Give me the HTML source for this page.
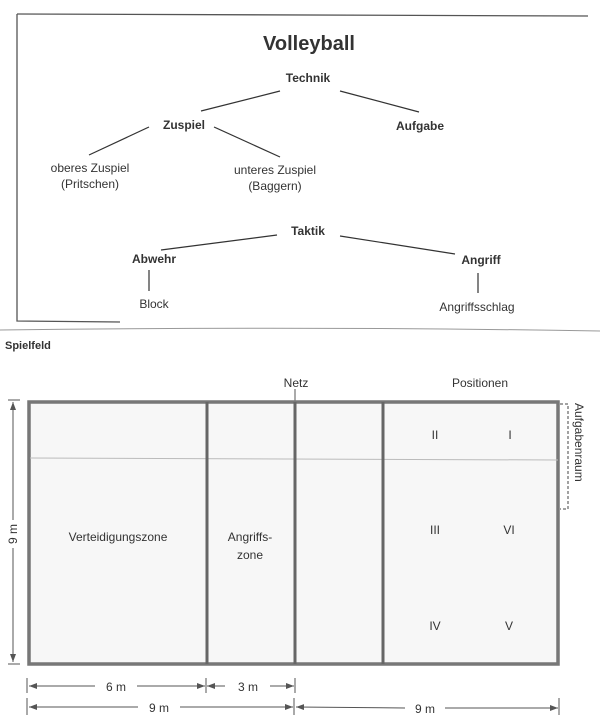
<!DOCTYPE html>
<html><head><meta charset="utf-8"><style>
html,body{margin:0;padding:0;background:#fff;}
svg{display:block;}
text{font-family:"Liberation Sans",sans-serif;fill:#333;}
.b{font-weight:bold;}
</style></head><body>
<svg width="601" height="723" viewBox="0 0 601 723" xmlns="http://www.w3.org/2000/svg">
<defs>
<marker id="ar" markerWidth="8" markerHeight="6" refX="8" refY="3" orient="auto-start-reverse"><path d="M0,0 L8,3 L0,6 z" fill="#555"/></marker>
</defs>
<g stroke="#555" stroke-width="1.3" fill="none">
<path d="M17,14 L588,16"/>
<path d="M17,14 L17,321 L120,322"/>
</g>
<path d="M0,330 Q300,326 600,331" stroke="#999" stroke-width="1" fill="none"/>
<text x="309" y="50" font-size="20" class="b" text-anchor="middle" fill="#444">Volleyball</text>
<text x="308" y="82" font-size="12" class="b" text-anchor="middle">Technik</text>
<text x="184" y="129" font-size="12" class="b" text-anchor="middle">Zuspiel</text>
<text x="420" y="130" font-size="12" class="b" text-anchor="middle">Aufgabe</text>
<text x="90" y="172" font-size="12" text-anchor="middle">oberes Zuspiel</text>
<text x="90" y="188" font-size="12" text-anchor="middle">(Pritschen)</text>
<text x="275" y="174" font-size="12" text-anchor="middle">unteres Zuspiel</text>
<text x="275" y="190" font-size="12" text-anchor="middle">(Baggern)</text>
<text x="308" y="235" font-size="12" class="b" text-anchor="middle">Taktik</text>
<text x="154" y="263" font-size="12" class="b" text-anchor="middle">Abwehr</text>
<text x="481" y="264" font-size="12" class="b" text-anchor="middle">Angriff</text>
<text x="154" y="308" font-size="12" text-anchor="middle">Block</text>
<text x="477" y="311" font-size="12" text-anchor="middle">Angriffsschlag</text>
<g stroke="#333" stroke-width="1.2">
<line x1="280" y1="91" x2="201" y2="111"/>
<line x1="340" y1="91" x2="419" y2="112"/>
<line x1="149" y1="127" x2="89" y2="155"/>
<line x1="214" y1="127" x2="280" y2="157"/>
<line x1="277" y1="235" x2="161" y2="250"/>
<line x1="340" y1="236" x2="455" y2="254"/>
<line x1="149" y1="270" x2="149" y2="291"/>
<line x1="478" y1="273" x2="478" y2="293"/>
</g>
<text x="5" y="349" font-size="11" class="b">Spielfeld</text>
<text x="296" y="387" font-size="12" text-anchor="middle">Netz</text>
<text x="480" y="387" font-size="12" text-anchor="middle">Positionen</text>
<line x1="295" y1="389" x2="295" y2="402" stroke="#555" stroke-width="1"/>
<rect x="29" y="402" width="529" height="262" fill="#f7f7f7" stroke="#777" stroke-width="3.5"/>
<line x1="30" y1="458" x2="558" y2="460" stroke="#bbb" stroke-width="1"/>
<g stroke="#666" stroke-width="3">
<line x1="207" y1="402" x2="207" y2="664"/>
<line x1="295" y1="402" x2="295" y2="664"/>
<line x1="383" y1="402" x2="383" y2="664"/>
</g>
<path d="M560,404 L568,404 L568,509 L560,509" stroke="#444" stroke-dasharray="3,2" fill="none" stroke-width="1"/>
<text transform="translate(575,403) rotate(90)" font-size="12">Aufgabenraum</text>
<text x="118" y="541" font-size="12" text-anchor="middle">Verteidigungszone</text>
<text x="250" y="541" font-size="12" text-anchor="middle">Angriffs-</text>
<text x="250" y="559" font-size="12" text-anchor="middle">zone</text>
<g font-size="12" text-anchor="middle">
<text x="435" y="439">II</text><text x="510" y="439">I</text>
<text x="435" y="534">III</text><text x="509" y="534">VI</text>
<text x="435" y="630">IV</text><text x="509" y="630">V</text>
</g>
<g stroke="#555" stroke-width="1" fill="none">
<line x1="8" y1="400" x2="20" y2="400"/><line x1="8" y1="664" x2="20" y2="664"/>
<line x1="13" y1="402" x2="13" y2="520" marker-start="url(#ar)"/>
<line x1="13" y1="548" x2="13" y2="662" marker-end="url(#ar)"/>
<line x1="27" y1="678" x2="27" y2="693"/><line x1="27" y1="698" x2="27" y2="715"/>
<line x1="206" y1="678" x2="206" y2="693"/>
<line x1="295" y1="678" x2="295" y2="693"/><line x1="294" y1="698" x2="294" y2="715"/>
<line x1="559" y1="698" x2="559" y2="715"/>
<line x1="29" y1="686" x2="95" y2="686" marker-start="url(#ar)"/>
<line x1="137" y1="686" x2="205" y2="686" marker-end="url(#ar)"/>
<line x1="207" y1="686" x2="225" y2="686" marker-start="url(#ar)"/>
<line x1="270" y1="686" x2="294" y2="686" marker-end="url(#ar)"/>
<line x1="29" y1="707" x2="138" y2="707" marker-start="url(#ar)"/>
<line x1="180" y1="707" x2="293" y2="707" marker-end="url(#ar)"/>
<line x1="296" y1="707" x2="405" y2="708" marker-start="url(#ar)"/>
<line x1="445" y1="708" x2="558" y2="708" marker-end="url(#ar)"/>
</g>
<text transform="translate(17,534) rotate(-90)" font-size="12" text-anchor="middle">9 m</text>
<text x="116" y="691" font-size="12" text-anchor="middle">6 m</text>
<text x="248" y="691" font-size="12" text-anchor="middle">3 m</text>
<text x="159" y="712" font-size="12" text-anchor="middle">9 m</text>
<text x="425" y="713" font-size="12" text-anchor="middle">9 m</text>
</svg>
</body></html>
